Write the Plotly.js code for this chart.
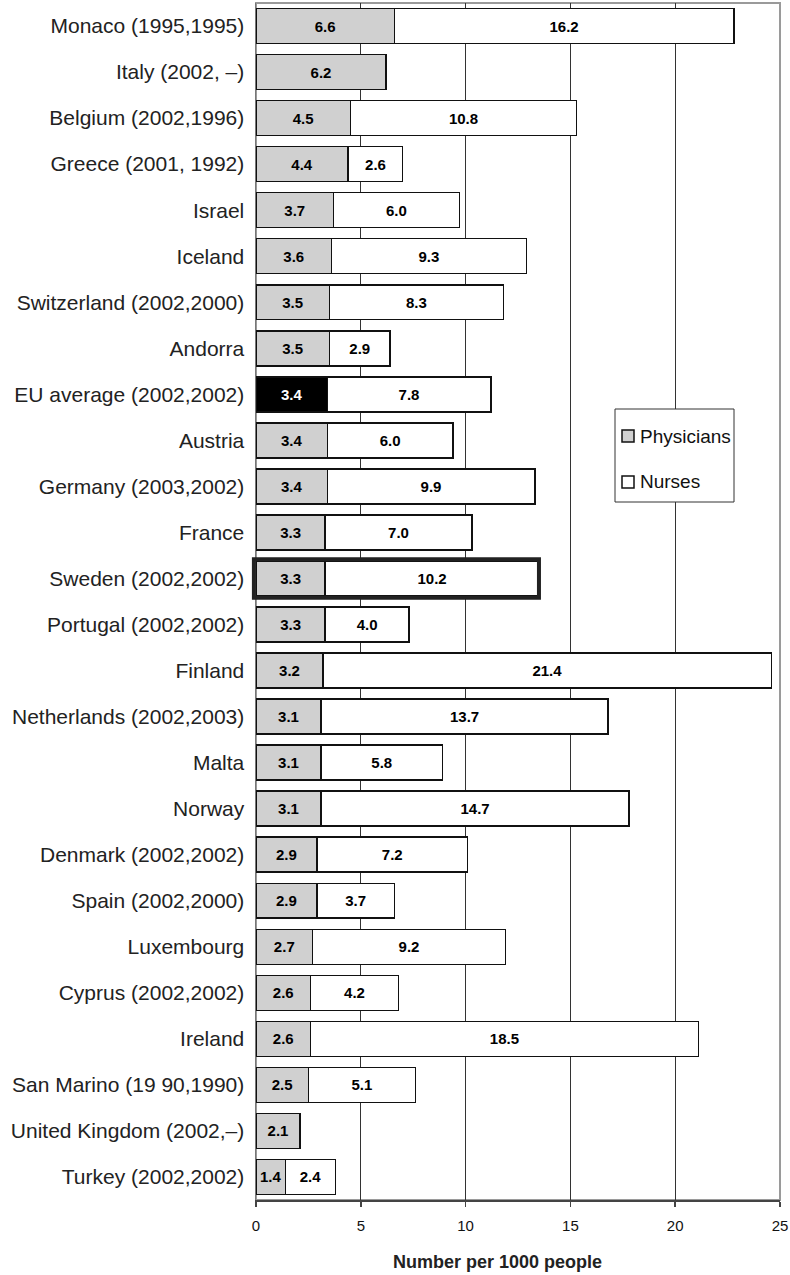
<!DOCTYPE html>
<html>
<head>
<meta charset="utf-8">
<script src="https://cdn.plot.ly/plotly-3.0.1.min.js"></script>
<style>
  html, body { margin: 0; padding: 0; background: #fff; }
  #chart { width: 790px; height: 1275px; }
</style>
</head>
<body>
<div id="chart"></div>
<script>
// Health workforce per 1000 people, by country (years of physician / nurse data)
const countries = [
  "Monaco (1995,1995)", "Italy (2002, \u2013)", "Belgium (2002,1996)", "Greece (2001, 1992)",
  "Israel", "Iceland", "Switzerland (2002,2000)", "Andorra", "EU average (2002,2002)",
  "Austria", "Germany (2003,2002)", "France", "Sweden (2002,2002)", "Portugal (2002,2002)",
  "Finland", "Netherlands (2002,2003)", "Malta", "Norway", "Denmark (2002,2002)",
  "Spain (2002,2000)", "Luxembourg", "Cyprus (2002,2002)", "Ireland",
  "San Marino (19 90,1990)", "United Kingdom (2002,\u2013)", "Turkey (2002,2002)"
];
const physicians = [6.6, 6.2, 4.5, 4.4, 3.7, 3.6, 3.5, 3.5, 3.4, 3.4, 3.4, 3.3, 3.3, 3.3,
  3.2, 3.1, 3.1, 3.1, 2.9, 2.9, 2.7, 2.6, 2.6, 2.5, 2.1, 1.4];
const nurses = [16.2, null, 10.8, 2.6, 6.0, 9.3, 8.3, 2.9, 7.8, 6.0, 9.9, 7.0, 10.2, 4.0,
  21.4, 13.7, 5.8, 14.7, 7.2, 3.7, 9.2, 4.2, 18.5, 5.1, null, 2.4];
const xTicks = [0, 5, 10, 15, 20, 25];
const seriesNames = ["Physicians", "Nurses"];
const seriesColors = ["#d0d0d0", "#ffffff"];
const highlighted = "Sweden (2002,2002)";
const averageRow = "EU average (2002,2002)";
const xTitle = "Number per 1000 people";

const FONT = "Liberation Sans, Arial, Helvetica, sans-serif";
const NARROW = "Liberation Sans Narrow, Arial Narrow, Liberation Sans, Arial, sans-serif";
const xRange = [xTicks[0], xTicks[xTicks.length - 1]];

const physColors = countries.map(c => c === averageRow ? "#000000" : seriesColors[0]);
const physTextColors = countries.map(c => c === averageRow ? "#ffffff" : "#000000");

const physTrace = {
  type: "bar", orientation: "h", name: seriesNames[0],
  y: countries, x: physicians,
  marker: { color: physColors, line: { color: "#111", width: 1.5 } },
  text: physicians.map(v => v.toFixed(1)),
  textposition: "inside", insidetextanchor: "middle",
  textfont: { family: NARROW, size: 15, color: physTextColors, weight: "bold" },
  constraintext: "none", hoverinfo: "x+y"
};
const nurseTrace = {
  type: "bar", orientation: "h", name: seriesNames[1],
  y: countries, x: nurses,
  marker: { color: seriesColors[1], line: { color: "#111", width: 1.5 } },
  text: nurses.map(v => v === null ? "" : v.toFixed(1)),
  textposition: "inside", insidetextanchor: "middle",
  textfont: { family: NARROW, size: 15, color: "#000", weight: "bold" },
  constraintext: "none", hoverinfo: "x+y"
};

// Frame around the highlighted country's full bar, placed from its data
const n = countries.length;
const hi = countries.indexOf(highlighted);
const hiTotal = physicians[hi] + (nurses[hi] || 0);
const bandFrac = 1 / n;
const hiCenter = 1 - (hi + 0.5) * bandFrac;
const hiHalf = 0.42 * bandFrac;

// Legend box drawn in paper space: swatch beside each label
const plotW = 790 - 256 - 10, plotH = 1275 - 3 - 75;
const px = v => v / plotW, py = v => v / plotH;
const legX0 = px(615 - 256), legX1 = px(734 - 256);
const legY1 = 1 - py(409 - 3), legY0 = 1 - py(502 - 3);
const legRows = [1 - py(436 - 3), 1 - py(482 - 3)];

const shapes = [
  // plot frame (top/right edges)
  { type: "rect", xref: "paper", yref: "paper", x0: 0, x1: 1, y0: 0, y1: 1,
    line: { color: "#9a9a9a", width: 2 }, layer: "below" },
  { type: "rect", xref: "paper", yref: "paper",
    x0: -0.004, x1: (hiTotal - xRange[0]) / (xRange[1] - xRange[0]),
    y0: hiCenter - hiHalf, y1: hiCenter + hiHalf,
    line: { color: "#222", width: 4 }, fillcolor: "rgba(0,0,0,0)", layer: "above" },
  { type: "rect", xref: "paper", yref: "paper",
    x0: legX0, x1: legX1, y0: legY0, y1: legY1,
    line: { color: "#333", width: 1 }, fillcolor: "#ffffff", layer: "above" }
];
const annotations = [
  { xref: "paper", yref: "paper", x: px(497 - 256), y: 1 - py(1262 - 3),
    xanchor: "center", yanchor: "middle", showarrow: false, text: "<b>" + xTitle + "</b>",
    font: { family: FONT, size: 18, color: "#222" } }
];
seriesNames.forEach((name, i) => {
  shapes.push({ type: "rect", xref: "paper", yref: "paper",
    x0: px(622 - 256), x1: px(634 - 256),
    y0: legRows[i] - py(6), y1: legRows[i] + py(6),
    line: { color: "#111", width: 1.5 }, fillcolor: seriesColors[i], layer: "above" });
  annotations.push({ xref: "paper", yref: "paper", x: px(638 - 256), y: legRows[i],
    xanchor: "left", yanchor: "middle", showarrow: false, text: name,
    font: { family: FONT, size: 19, color: "#111" } });
});

const layout = {
  width: 790, height: 1275,
  margin: { l: 256, r: 10, t: 3, b: 75 },
  paper_bgcolor: "#fff", plot_bgcolor: "#fff",
  barmode: "stack", bargap: 0.24,
  font: { family: FONT, color: "#222" },
  showlegend: false,
  xaxis: {
    range: xRange, tickvals: xTicks, ticktext: xTicks.map(String),
    showgrid: true, gridcolor: "#333", gridwidth: 1,
    zeroline: false,
    showline: true, linecolor: "#444", linewidth: 2,
    ticks: "outside", ticklen: 5, tickcolor: "#444", tickwidth: 1.5,
    ticklabelstandoff: 6,
    tickfont: { family: NARROW, size: 15, color: "#111" },
    fixedrange: true
  },
  yaxis: {
    type: "category", categoryorder: "array", categoryarray: countries,
    autorange: "reversed",
    showgrid: false, zeroline: false,
    showline: true, linecolor: "#777", linewidth: 1.5,
    ticks: "", ticklabelstandoff: 6,
    tickfont: { family: FONT, size: 21, color: "#222" },
    fixedrange: true
  },
  shapes: shapes,
  annotations: annotations
};

Plotly.newPlot("chart", [physTrace, nurseTrace], layout, { displayModeBar: false, staticPlot: true });
</script>
</body>
</html>
